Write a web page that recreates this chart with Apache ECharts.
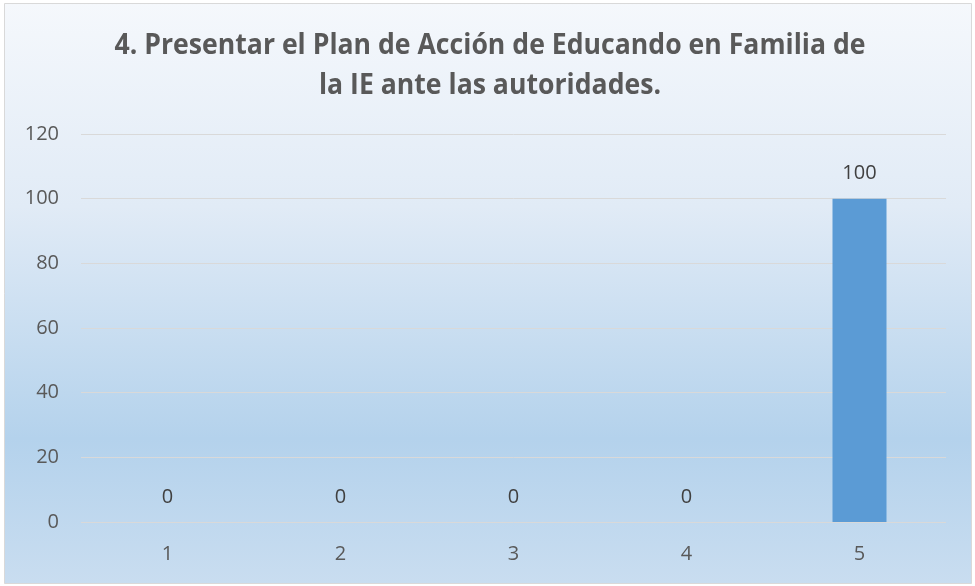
<!DOCTYPE html>
<html><head><meta charset="utf-8">
<script src="https://cdn.jsdelivr.net/npm/echarts@6/dist/echarts.min.js"></script>
<style>html,body{margin:0;padding:0;background:#fff}#c{width:975px;height:586px}</style>
</head><body><div id="c"></div>
<script>
const categories = ['1','2','3','4','5'];
const values = [0,0,0,0,100];
const titleLines = ['4. Presentar el Plan de Acción de Educando en Familia de', 'la IE ante las autoridades.'];

const titleFont = 'bold 29px "Open Sans"';
const cv = document.createElement('canvas').getContext('2d');
cv.font = titleFont;
const w1 = cv.measureText(titleLines[0]).width;
const sx = 751 / w1;

const chart = echarts.init(document.getElementById('c'));
chart.setOption({
  backgroundColor: '#ffffff',
  graphic: [{
    type: 'rect', z: -10, silent: true,
    shape: {x: 4.5, y: 3.5, width: 967, height: 580},
    style: {
      fill: new echarts.graphic.LinearGradient(0,0,0,1,[
        {offset:0,color:'#f5f8fc'},
        {offset:0.35,color:'#e1ebf6'},
        {offset:0.75,color:'#b4d2ec'},
        {offset:1,color:'#c9ddf0'}
      ]),
      stroke: '#d9d9d9', lineWidth: 1
    }
  }, {
    type: 'group', x: 490, y: 0, scaleX: sx, silent: true,
    children: titleLines.map((t, i) => ({
      type: 'text', x: 0, y: 46 + 40 * i,
      style: {text: t, font: titleFont, fill: '#595959', textAlign: 'center', textVerticalAlign: 'middle'}
    }))
  }],
  grid: {left: 81, right: 29, top: 134, bottom: 64},
  xAxis: {
    type: 'category', data: categories,
    axisLine: {show: false}, axisTick: {show: false},
    axisLabel: {color: '#595959', fontSize: 20, fontFamily: 'Open Sans', margin: 22}
  },
  yAxis: {
    type: 'value', min: 0, max: 120, interval: 20,
    axisLine: {show: false}, axisTick: {show: false},
    splitLine: {lineStyle: {color: '#d9d9d9', width: 1}},
    axisLabel: {color: '#595959', fontSize: 20, fontFamily: 'Open Sans', margin: 22}
  },
  series: [{
    type: 'bar', data: values, barWidth: 54,
    itemStyle: {color: '#5b9bd5'},
    label: {show: true, position: 'top', distance: 15, color: '#404040', fontSize: 20, fontFamily: 'Open Sans'}
  }]
});
</script></body></html>
